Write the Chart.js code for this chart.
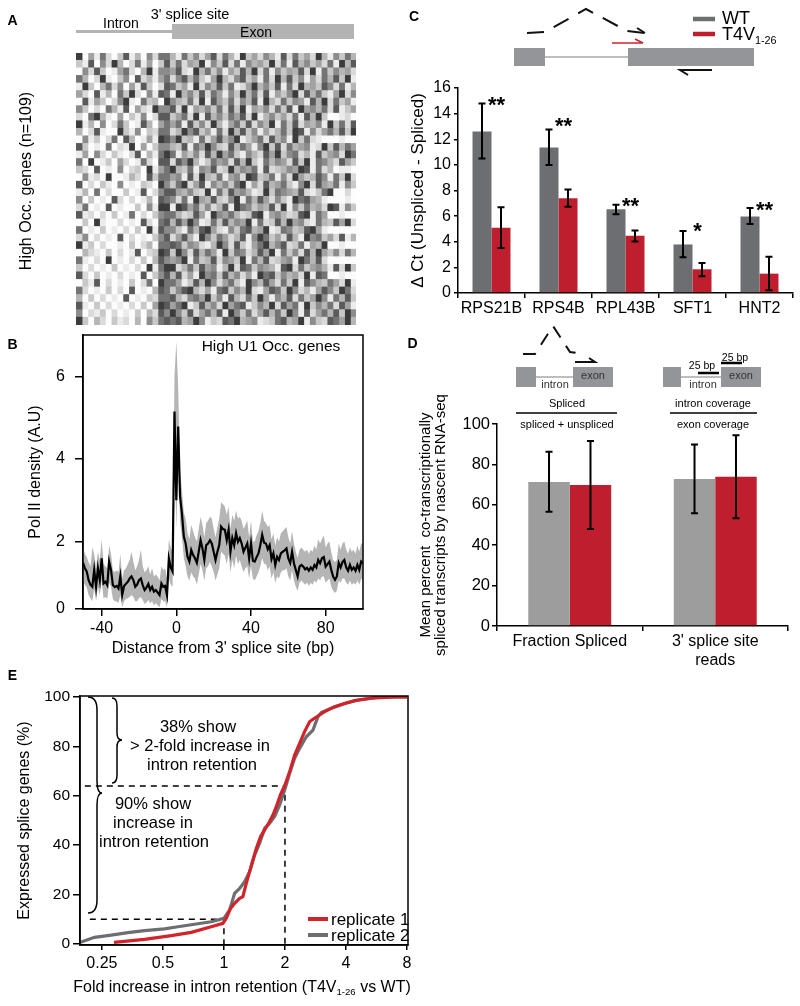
<!DOCTYPE html>
<html><head><meta charset="utf-8">
<script src="https://cdn.jsdelivr.net/npm/chart.js@4.4.1/dist/chart.umd.min.js"></script>
<style>
body{margin:0;background:#fff;}
#page{position:relative;width:800px;height:1006px;overflow:hidden;font-family:'Liberation Sans',Arial,sans-serif;color:#000;background:#fff;}
canvas{position:absolute;}
.t{position:absolute;white-space:nowrap;line-height:1;}
.t sub{font-size:60%;vertical-align:-0.35em;line-height:0;}
</style></head><body><div id="page">
<canvas id="cA" width="280" height="272" style="left:76px;top:53px;width:280px;height:272px"></canvas>
<canvas id="cB" width="385" height="340" style="left:0px;top:325px;width:385px;height:340px"></canvas>
<canvas id="cC" width="400" height="265" style="left:400px;top:70px;width:400px;height:265px"></canvas>
<canvas id="cD" width="400" height="310" style="left:400px;top:370px;width:400px;height:310px"></canvas>
<canvas id="cE" width="420" height="300" style="left:0px;top:680px;width:420px;height:300px"></canvas>
<svg width="800" height="1006" style="position:absolute;left:0;top:0;overflow:visible">
<rect x="76" y="30" width="96" height="3" fill="#b3b3b3"/>
<rect x="172" y="24" width="182" height="15" fill="#b3b3b3"/>
<rect x="514" y="48" width="31" height="18" fill="#939598"/>
<line x1="545" y1="57" x2="628" y2="57" stroke="#a7a9ac" stroke-width="1.5"/>
<rect x="628" y="48" width="126" height="18" fill="#939598"/>
<path d="M527,33 L545,32 L586,9 L627,31 L645,33" fill="none" stroke="#111" stroke-width="2" stroke-dasharray="17,11"/>
<path d="M645,33 L637,28" stroke="#111" stroke-width="2"/>
<path d="M612,43 L643,43 L635,39" fill="none" stroke="#d2232a" stroke-width="1.5"/>
<path d="M712,70 L680,70 L688,75" fill="none" stroke="#111" stroke-width="2"/>
<line x1="693" y1="19" x2="715" y2="19" stroke="#6d6e71" stroke-width="4.5"/>
<line x1="693" y1="34" x2="715" y2="34" stroke="#be1e2d" stroke-width="4.5"/>
<path d="M523,354 L535,354 L553,326 L570,352 L583,354" fill="none" stroke="#111" stroke-width="2" stroke-dasharray="13,10"/>
<rect x="516" y="367" width="20" height="20" fill="#939598"/>
<line x1="536" y1="377" x2="573" y2="377" stroke="#a7a9ac" stroke-width="1.5"/>
<rect x="573" y="367" width="40" height="20" fill="#939598"/>
<path d="M575,362 L595,362 L589,358" fill="none" stroke="#111" stroke-width="2"/>
<line x1="516" y1="413" x2="617" y2="413" stroke="#000" stroke-width="1.5"/>
<rect x="663" y="367" width="18" height="20" fill="#939598"/>
<line x1="681" y1="377" x2="721" y2="377" stroke="#a7a9ac" stroke-width="1.5"/>
<rect x="721" y="367" width="40" height="20" fill="#939598"/>
<line x1="698" y1="373" x2="719" y2="373" stroke="#000" stroke-width="2.5"/>
<line x1="721" y1="363" x2="742" y2="363" stroke="#000" stroke-width="2.5"/>
<line x1="670" y1="413" x2="757" y2="413" stroke="#000" stroke-width="1.5"/>
<path d="M88,697 Q97,697 97,710 L97,781 Q97,793 102,793 Q97,793 97,805 L97,900 Q97,913 88,913" fill="none" stroke="#000" stroke-width="1.5"/>
<path d="M112,698 Q117,698 117,706 L117,733 Q117,740 122,740 Q117,740 117,747 L117,775 Q117,783 112,783" fill="none" stroke="#000" stroke-width="1.5"/>
<line x1="308" y1="919" x2="328" y2="919" stroke="#d2232a" stroke-width="4"/>
<line x1="308" y1="935" x2="328" y2="935" stroke="#6d6e71" stroke-width="4"/>
</svg>
</div>
<script>
// ---------- Panel A: heatmap (estimated gray levels 0..9; intron | splice column | exon) ----------
const heatIntron = [
"905172038140627","318062940271503","062830157204916","740291036082415","193047260518302","520814073920618",
"081530269107340","630207418052196","207941050316028","914060273018405","402810093160327","061302708401519",
"830107021905036","150620310280417","709013052017208","320801060230915","061209001420837","802031060103209",
"140702003018026","603010820201408","270108010030619","812020301702036","030910020108207","701030102030918",
"260201080201036","913020010302407","042103020180239","710209010203048","302010301020917","820301020108036",
"031802010302709","720103020801048","403020108010327","810302010203059","602130201030428","930420312040637"];
const heatSplice = "786787968778698776879786878698777868";
const heatExon = [
"41736258274193526418273529416374","37254916382716453927184635271948","58219473615384927163548291736452",
"26847315942683517294836152748391","73519264837125946381729453862714","19463827516394728153692847315926",
"64372918537264819427365184927351","82915463728391546273819564728135","35729184637582914635271849300120",
"57183629415738264917382546193728","24968351729483615247398162574839","69341725846913572846193721000100",
"43817596328475169382745612938475","71536284957316428593672418356297","28694137562849317465283917642853",
"94371658239465718234659817240110","56182943715629834716295348617392","37925816463791528457316928547163",
"85463291738564129376548213790020","62719548326917485263197854100010","19857362481976354829163745298163",
"74238519657423891564238917500100","48596127384659172384956217438592","63174895216378459127634895100000",
"25841963752481697352841967352814","87365214962831579468237154900100","39628475193762485917362849536274",
"56917348265391748235619748200000","92473856149287365418927356418293","48251967384625197836452918700100",
"75138496257319648527391864375291","36894251783649215873962415863972","84267593618427395164827359617483",
"57913846295781364928571936472851","96382574819637258473961825748396","78459613287945612378459163287594"];
const heatShade = [252,236,218,200,182,162,140,116,90,60];

// ---------- Panel B: Pol II density around 3' splice site ----------
const bpPos = [-50,-49,-48,-47,-46,-45,-44,-43,-42,-41,-40,-39,-38,-37,-36,-35,-34,-33,-32,-31,-30,-29,-28,-27,-26,-25,-24,-23,-22,-21,-20,-19,-18,-17,-16,-15,-14,-13,-12,-11,-10,-9,-8,-7,-6,-5,-4,-3,-2,-1,0,1,2,3,4,5,6,7,8,9,10,11,12,13,14,15,16,17,18,19,20,21,22,23,24,25,26,27,28,29,30,31,32,33,34,35,36,37,38,39,40,41,42,43,44,45,46,47,48,49,50,51,52,53,54,55,56,57,58,59,60,61,62,63,64,65,66,67,68,69,70,71,72,73,74,75,76,77,78,79,80,81,82,83,84,85,86,87,88,89,90,91,92,93,94,95,96,97,98,99,100];
const polVal = [1.48,1.35,1.27,1.06,0.95,0.90,1.31,0.90,1.35,1.06,
1.59,0.98,1.02,0.94,1.51,1.31,0.94,0.89,0.92,0.86,
1.16,0.70,0.92,0.97,1.02,1.10,1.15,1.06,0.90,0.95,
1.06,1.10,0.94,0.82,0.88,0.97,0.82,0.90,0.78,0.82,
0.76,0.70,0.98,0.90,0.92,0.70,1.59,1.37,1.27,5.15,
3.00,4.79,3.09,2.68,2.12,1.95,1.63,1.51,1.79,1.67,
1.59,1.48,1.75,2.03,1.83,1.55,1.91,1.95,2.03,1.95,
1.75,1.55,1.75,1.91,2.36,2.30,2.28,2.03,2.28,1.75,
2.08,1.91,2.20,1.99,2.08,1.95,1.75,1.85,1.95,1.59,
1.95,1.53,1.51,1.62,1.71,1.91,2.16,1.97,1.95,1.81,
1.91,1.57,1.71,1.43,1.63,1.55,1.71,1.75,1.78,1.83,
1.59,1.48,1.75,1.47,1.31,1.15,1.39,1.43,1.39,1.32,
1.36,1.29,1.37,1.31,1.43,1.37,1.55,1.47,1.59,1.62,
1.39,1.45,1.51,1.31,1.15,1.07,1.15,1.48,1.37,1.50,
1.55,1.37,1.29,1.43,1.31,1.37,1.29,1.43,1.31,1.51,
1.47];
const polLo = [1.05,0.95,0.88,0.70,0.62,0.55,0.85,0.55,0.90,0.70,
1.05,0.62,0.65,0.60,1.00,0.90,0.60,0.55,0.55,0.50,
0.70,0.40,0.55,0.60,0.62,0.65,0.70,0.65,0.55,0.55,
0.62,0.65,0.58,0.48,0.52,0.58,0.50,0.55,0.45,0.50,
0.45,0.40,0.60,0.55,0.55,0.40,1.10,0.95,0.90,4.30,
2.30,3.90,2.50,2.10,1.60,1.40,1.15,1.05,1.25,1.15,
1.10,0.95,1.20,1.45,1.30,1.05,1.35,1.40,1.50,1.40,
1.25,1.05,1.20,1.35,1.75,1.70,1.65,1.45,1.70,1.25,
1.55,1.35,1.65,1.45,1.55,1.40,1.25,1.35,1.40,1.10,
1.40,1.10,1.05,1.15,1.25,1.40,1.60,1.45,1.45,1.30,
1.40,1.10,1.25,1.00,1.15,1.10,1.25,1.30,1.30,1.35,
1.15,1.05,1.30,1.05,0.90,0.80,1.00,1.05,1.00,0.95,
1.00,0.92,1.00,0.95,1.05,1.00,1.10,1.05,1.15,1.15,
1.00,1.05,1.10,0.90,0.80,0.75,0.80,1.05,1.00,1.10,
1.10,1.00,0.95,1.05,0.95,1.00,0.95,1.05,0.95,1.10,
1.05];
const polHi = [1.85,1.70,1.62,1.50,1.40,1.85,1.70,1.35,1.75,1.55,
2.05,1.45,1.40,1.35,1.90,1.70,1.30,1.25,1.30,1.25,
1.70,1.10,1.30,1.35,1.45,1.55,1.75,1.50,1.30,1.40,
1.55,1.80,1.40,1.25,1.30,1.40,1.20,1.35,1.15,1.20,
1.15,1.05,1.40,1.30,1.35,1.10,2.05,1.85,1.75,6.00,
6.85,5.75,3.70,3.25,2.70,2.55,2.20,2.05,2.40,2.25,
2.10,2.00,2.30,2.60,2.40,2.10,2.45,2.50,2.60,2.55,
2.30,2.10,2.35,2.55,2.95,2.90,2.85,2.65,2.85,2.30,
2.65,2.50,2.75,2.55,2.60,2.50,2.30,2.40,2.50,2.10,
2.50,2.00,2.00,2.15,2.25,2.45,2.75,2.50,2.45,2.35,
2.40,2.05,2.20,1.90,2.10,2.00,2.20,2.25,2.30,2.35,
2.10,1.95,2.25,1.95,1.75,1.60,1.80,1.85,1.80,1.75,
1.80,1.70,1.80,1.75,1.90,1.80,2.05,1.95,2.05,2.15,
1.85,1.95,2.00,1.75,1.55,1.50,1.55,1.95,1.80,1.95,
2.00,1.80,1.70,1.85,1.75,1.80,1.70,1.90,1.75,1.95,
1.95];
const bTicksX = [-40,0,40,80];
const bTicksY = [0.36,2,4,6];          // the figure's "0" tick sits at the box bottom
const bTickLabelsY = ['0','2','4','6'];

// ---------- Panel C: qPCR delta Ct ----------
const cGenes = ['RPS21B','RPS4B','RPL43B','SFT1','HNT2'];
const cWT    = [12.6, 11.35, 6.53, 3.79, 5.98];
const cWTlo  = [10.5, 10.0, 6.14, 2.79, 5.38];
const cWThi  = [14.8, 12.77, 6.89, 4.83, 6.63];
const cT4    = [5.09, 7.39, 4.46, 1.85, 1.51];
const cT4lo  = [3.52, 6.74, 4.02, 1.31, 0.21];
const cT4hi  = [6.70, 8.07, 4.88, 2.35, 2.82];
const cStars = ['**','**','**','*','**'];
const cStarY = [15.1, 13.5, 7.25, 5.3, 6.9];

// ---------- Panel D: nascent RNA-seq ----------
const dCats  = ['Fraction Spliced', ["3' splice site", 'reads']];
const dWT    = [71.3, 72.8];
const dWTlo  = [56.6, 55.8];
const dWThi  = [86.3, 89.9];
const dT4    = [69.8, 73.9];
const dT4lo  = [48.0, 53.3];
const dT4hi  = [91.6, 94.4];

// ---------- Panel E: cumulative distributions ----------
const rep1Fold = [0.287,0.406,0.550,0.690,0.866,0.989,1.027,1.078,1.129,1.195,1.240,1.289,1.339,1.390,1.444,1.517,1.588,1.661,1.745,1.813,1.896,2.000,2.110,2.232,2.362,2.500,2.646,2.749,2.910,3.138,3.516,3.940,4.414,5.333,6.955,8.0];
const rep1Pct  = [0.7,1.9,3.4,4.7,7.0,8.4,10.4,14.4,16.5,18.5,19.2,24.6,29.3,34.0,38.7,43.5,46.2,48.9,52.2,55.6,60.3,64.4,69.8,76.5,81.2,86.0,90.0,91.0,92.3,94.1,96.1,97.4,98.5,99.5,100,100];
const rep2Fold = [0.196,0.230,0.278,0.336,0.406,0.509,0.593,0.716,0.866,1.0,1.067,1.129,1.195,1.265,1.339,1.417,1.500,1.588,1.681,1.779,1.883,1.993,2.110,2.232,2.362,2.549,2.749,2.910,3.023,3.387,3.940,4.585,5.755,8.0];
const rep2Pct  = [0.7,2.7,3.6,4.6,5.4,6.1,7.0,8.0,9.0,10.4,13.8,20.5,22.5,25.2,29.3,36.0,40.8,46.8,48.9,51.6,56.3,62.3,69.1,75.2,79.2,83.9,86.6,92.0,93.7,95.4,97.4,98.8,99.9,100];
const refX1 = [0.218, 1, 1];  const refY1 = [10, 10, 0];
const refX2 = [0.206, 2, 2];  const refY2 = [64, 64, 0];
const eTicksX = [0.25, 0.5, 1, 2, 4, 8];
const eTickLabelsX = ['0.25','0.5','1','2','4','8'];

// ================= drawing =================
const FONT = "'Liberation Sans', Arial, sans-serif";
Chart.defaults.font.family = FONT;
Chart.defaults.color = '#000';
const base = {responsive:false, animation:false, devicePixelRatio:1, events:[]};
const noLegend = {legend:{display:false}, tooltip:{enabled:false}};

const boxPlugin = {id:'box', afterDraw(chart){const {ctx, chartArea:a}=chart; ctx.save(); ctx.strokeStyle='#000'; ctx.lineWidth=1.5; ctx.strokeRect(a.left,a.top,a.right-a.left,a.bottom-a.top); ctx.restore();}};
function errPlugin(sets, half){ return {id:'err', afterDatasetsDraw(chart){ const ctx=chart.ctx, ys=chart.scales.y; ctx.save(); ctx.strokeStyle='#000'; ctx.lineWidth=2;
  sets.forEach((s,di)=>{ chart.getDatasetMeta(di).data.forEach((el,j)=>{ const x=el.x, y1=ys.getPixelForValue(s.lo[j]), y2=ys.getPixelForValue(s.hi[j]);
    ctx.beginPath(); ctx.moveTo(x,y1); ctx.lineTo(x,y2); ctx.moveTo(x-half,y1); ctx.lineTo(x+half,y1); ctx.moveTo(x-half,y2); ctx.lineTo(x+half,y2); ctx.stroke(); }); });
  ctx.restore(); }}; }
const starPlugin = {id:'stars', afterDatasetsDraw(chart){ const ctx=chart.ctx, ys=chart.scales.y, m0=chart.getDatasetMeta(0).data, m1=chart.getDatasetMeta(1).data;
  ctx.save(); ctx.fillStyle='#000'; ctx.font='bold 22px '+FONT; ctx.textAlign='center'; ctx.textBaseline='alphabetic';
  cStars.forEach((t,j)=>{ const x=(m0[j].x+m1[j].x)/2+5; ctx.fillText(t, x, ys.getPixelForValue(cStarY[j]) + 0.57*22); }); ctx.restore(); }};

function axisCommon(tickLen, fontSize, pad){ return {grid:{drawOnChartArea:false, drawTicks:true, tickLength:tickLen, color:'#000', lineWidth:1.5}, border:{display:true, color:'#000', width:1.5}, ticks:{font:{size:fontSize}, color:'#000', padding:pad, maxRotation:0, autoSkip:false}}; }

// A
(function(){
  const rows = heatIntron.map((s,i)=> (s.padEnd(15,'0').slice(0,15)) + heatSplice[i] + (heatExon[i].padEnd(32,'0').slice(0,32)));
  const nCols = 48, ds=[];
  for(let c=0;c<nCols;c++){
    ds.push({data: rows.map(()=>1), backgroundColor: rows.map(r=>{const g=heatShade[+r[c]]; return 'rgb('+g+','+g+','+g+')';}),
      borderWidth:0, barPercentage:1, categoryPercentage:1, inflateAmount:0.6});
  }
  new Chart(document.getElementById('cA'), {type:'bar', data:{labels:rows.map((_,i)=>'gene '+(i+1)), datasets:ds},
    options:{...base, indexAxis:'y', layout:{padding:0}, plugins:noLegend,
      scales:{x:{stacked:true, display:false, min:0, max:nCols}, y:{stacked:true, display:false}}}});
})();

// B
(function(){
  const xa = axisCommon(7,16,3), ya = axisCommon(8,16,10);
  new Chart(document.getElementById('cB'), {type:'line', data:{datasets:[
      {data: bpPos.map((x,i)=>({x, y:polVal[i]})), borderColor:'#000', borderWidth:2.2, pointRadius:0, fill:false},
      {data: bpPos.map((x,i)=>({x, y:polLo[i]})), borderWidth:0, borderColor:'rgba(0,0,0,0)', pointRadius:0, fill:false},
      {data: bpPos.map((x,i)=>({x, y:polHi[i]})), borderWidth:0, borderColor:'rgba(0,0,0,0)', pointRadius:0, fill:'-1', backgroundColor:'#b5b5b5'}
    ]},
    options:{...base, layout:{padding:{left:0, top:10, right:22, bottom:0}}, plugins:noLegend,
      scales:{
        x:{type:'linear', min:-50, max:100, ...xa, ticks:{...xa.ticks, callback:(v)=>String(v)},
           afterBuildTicks:s=>{s.ticks=bTicksX.map(v=>({value:v}));}, afterFit:s=>{s.height=56; s.paddingLeft=0; s.paddingRight=0;},
           title:{display:true, text:"Distance from 3' splice site (bp)", font:{size:16}, color:'#000', padding:{top:0,bottom:7}}},
        y:{type:'linear', min:0.36, max:7.01, ...ya, ticks:{...ya.ticks, callback:(v,i)=>bTickLabelsY[i]},
           afterBuildTicks:s=>{s.ticks=bTicksY.map(v=>({value:v}));}, afterFit:s=>{s.width=83; s.paddingTop=0; s.paddingBottom=0;},
           title:{display:true, text:'Pol II density (A.U)', font:{size:16}, color:'#000', padding:{top:26,bottom:0}}}
      }}, plugins:[boxPlugin]});
})();

// C
(function(){
  const xa = axisCommon(5,16,1), ya = axisCommon(4,16,3);
  xa.grid.offset = true;
  new Chart(document.getElementById('cC'), {type:'bar', data:{labels:cGenes, datasets:[
      {label:'WT', data:cWT, backgroundColor:'#6d6e71', borderWidth:0, barPercentage:1, categoryPercentage:0.567},
      {label:'T4V1-26', data:cT4, backgroundColor:'#be1e2d', borderWidth:0, barPercentage:1, categoryPercentage:0.567}
    ]},
    options:{...base, layout:{padding:{left:0, top:18, right:7, bottom:0}}, plugins:noLegend,
      scales:{
        x:{...xa, afterFit:s=>{s.height=42;}},
        y:{min:0, max:16, ...ya, ticks:{...ya.ticks, stepSize:2}, afterFit:s=>{s.width=58;},
           title:{display:true, text:'Δ Ct (Unspliced - Spliced)', font:{size:17}, color:'#000', padding:{top:8,bottom:0}}}
      }}, plugins:[errPlugin([{lo:cWTlo,hi:cWThi},{lo:cT4lo,hi:cT4hi}],3.5), starPlugin]});
})();

// D
(function(){
  const xa = axisCommon(5,16,1), ya = axisCommon(5,16.5,2);
  xa.grid.offset = true;
  new Chart(document.getElementById('cD'), {type:'bar', data:{labels:dCats, datasets:[
      {label:'WT', data:dWT, backgroundColor:'#9d9d9d', borderWidth:0, barPercentage:1, categoryPercentage:0.57},
      {label:'T4V1-26', data:dT4, backgroundColor:'#be1e2d', borderWidth:0, barPercentage:1, categoryPercentage:0.57}
    ]},
    options:{...base, layout:{padding:{left:0, top:54, right:12, bottom:0}}, plugins:noLegend,
      scales:{
        x:{...xa, afterFit:s=>{s.height=54;}},
        y:{min:0, max:100, ...ya, ticks:{...ya.ticks, stepSize:20}, afterFit:s=>{s.width=97;},
           title:{display:true, text:['Mean percent  co-transcriptionally','spliced transcripts by nascent RNA-seq'], font:{size:15, lineHeight:1}, color:'#000', padding:{top:18.5,bottom:0}}}
      }}, plugins:[errPlugin([{lo:dWTlo,hi:dWThi},{lo:dT4lo,hi:dT4hi}],3.5)]});
})();

// E
(function(){
  const xa = axisCommon(5,16,4), ya = axisCommon(7,15.5,3);
  new Chart(document.getElementById('cE'), {type:'line', data:{datasets:[
      {label:'replicate 1', data:rep1Fold.map((x,i)=>({x, y:rep1Pct[i]})), borderColor:'#d2232a', borderWidth:3.2, pointRadius:0, fill:false},
      {label:'replicate 2', data:rep2Fold.map((x,i)=>({x, y:rep2Pct[i]})), borderColor:'#6d6e71', borderWidth:3.2, pointRadius:0, fill:false},
      {data:refX1.map((x,i)=>({x, y:refY1[i]})), borderColor:'#000', borderWidth:1.5, borderDash:[6,5], pointRadius:0, fill:false},
      {data:refX2.map((x,i)=>({x, y:refY2[i]})), borderColor:'#000', borderWidth:1.5, borderDash:[6,5], pointRadius:0, fill:false}
    ]},
    options:{...base, layout:{padding:{left:0, top:16, right:12, bottom:0}}, plugins:noLegend,
      scales:{
        x:{type:'logarithmic', min:0.195, max:8.09, ...xa, ticks:{...xa.ticks, callback:(v,i)=>eTickLabelsX[i]},
           afterBuildTicks:s=>{s.ticks=eTicksX.map(v=>({value:v}));}, afterFit:s=>{s.height=35;}},
        y:{type:'linear', min:-0.4, max:100.4, ...ya, ticks:{...ya.ticks, callback:(v)=>String(v)},
           afterBuildTicks:s=>{s.ticks=[0,20,40,60,80,100].map(v=>({value:v}));}, afterFit:s=>{s.width=80;},
           title:{display:true, text:'Expressed splice genes (%)', font:{size:16}, color:'#000', padding:{top:15.4,bottom:0}}}
      }}, plugins:[boxPlugin]});
})();

// ---------- text ----------
const page = document.getElementById('page');
function txt(html, x, y, size, o={}){
  const d=document.createElement('div'); d.className='t'; d.innerHTML=html; d.style.fontSize=size+'px';
  d.style.left=x+'px'; d.style.top=y+'px';
  if(o.bold) d.style.fontWeight='bold';
  if(o.color) d.style.color=o.color;
  const ax = o.align==='l' ? '0' : '-50%';
  d.style.transform='translate('+ax+',-50%)'+(o.rot?' rotate('+o.rot+'deg)':'');
  page.appendChild(d); return d;
}
txt('A',12.5,20,14,{bold:true}); txt('B',12.5,344,14,{bold:true}); txt('C',414,16,14,{bold:true});
txt('D',412.5,343,14,{bold:true}); txt('E',12.5,675,14,{bold:true});
txt("3' splice site",190,14,14.5); txt('Intron',121,23,14); txt('Exon',256,32,14);
txt('High Occ. genes (n=109)',26,181,16,{rot:-90});
txt('High U1 Occ. genes',271,346,15.5);
txt('WT',722,18,18,{align:'l'}); txt('T4V<sub>1-26</sub>',722,34,18,{align:'l'});
txt('exon',593,375,11,{color:'#333'}); txt('intron',555,384,11,{color:'#333'});
txt('exon',741,375,11,{color:'#333'}); txt('intron',703,384,11,{color:'#333'});
txt('25 bp',702,365,10.5); txt('25 bp',735,356.5,10.5);
txt('Spliced',567,403,11); txt('spliced + unspliced',567,424,11);
txt('intron coverage',713,403,11); txt('exon coverage',713,424,11);
txt('38% show',198,726,16.5); txt('&gt; 2-fold increase in',200,745,16.5); txt('intron retention',202,764,16.5);
txt('90% show',153,803,16.5); txt('increase in',153,822,16.5); txt('intron retention',154,841,16.5);
txt('replicate 1',331,919,17,{align:'l'}); txt('replicate 2',331,935,17,{align:'l'});
txt('Fold increase in intron retention (T4V<sub>1-26</sub> vs WT)',242,987,16);
</script>
</body></html>
